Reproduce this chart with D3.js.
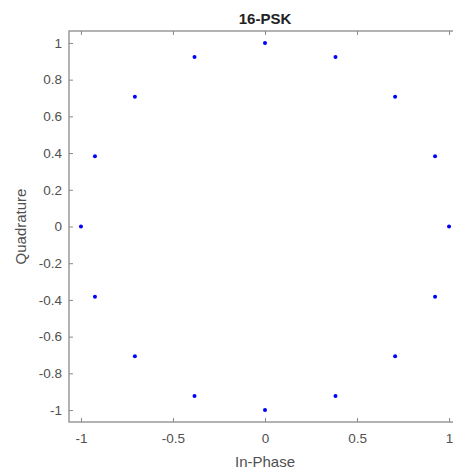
<!DOCTYPE html>
<html>
<head>
<meta charset="utf-8">
<script src="https://cdn.jsdelivr.net/npm/d3@7"></script>
<style>
body { margin:0; background:#fff; }
text { font-family: "Liberation Sans", Arial, sans-serif; }
</style>
</head>
<body>
<div id="chart"></div>
<script>
// 16-PSK constellation points
var inPhase    = [1, 0.924, 0.707, 0.383, 0, -0.383, -0.707, -0.924, -1, -0.924, -0.707, -0.383, 0, 0.383, 0.707, 0.924];
var quadrature = [0, 0.383, 0.707, 0.924, 1, 0.924, 0.707, 0.383, 0, -0.383, -0.707, -0.924, -1, -0.924, -0.707, -0.383];
var xTicks = [-1, -0.5, 0, 0.5, 1];
var yTicks = [-1, -0.8, -0.6, -0.4, -0.2, 0, 0.2, 0.4, 0.6, 0.8, 1];

var totalWidth = 453, totalHeight = 470;
var plotLeft = 69, plotTop = 31, plotRight = 461, plotBottom = 422;

var x = d3.scaleLinear().domain([-1.065, 1.065]).range([plotLeft, plotRight]);
var y = d3.scaleLinear().domain([-1.065, 1.065]).range([plotBottom, plotTop]);

// plain hyphen minus like the original
var fmt = function(d){ return String(d); };

var svg = d3.select('#chart').append('svg')
    .attr('width', totalWidth)
    .attr('height', totalHeight)
    .style('display', 'block');

var axisColor = '#8a8a8a';
var labelColor = '#505050';

// box
svg.append('rect')
    .attr('x', plotLeft).attr('y', plotTop)
    .attr('width', plotRight - plotLeft).attr('height', plotBottom - plotTop)
    .attr('fill', '#fff').attr('stroke', axisColor).attr('stroke-width', 1.3);

function styleAxis(g) {
    g.select('.domain').remove();
    g.selectAll('.tick line').attr('stroke', axisColor);
    g.selectAll('.tick text').attr('fill', labelColor).style('font-size', '13.5px');
}

// bottom axis, ticks point inward
svg.append('g')
    .attr('transform', 'translate(0,' + plotBottom + ')')
    .call(d3.axisBottom(x).tickValues(xTicks).tickSizeInner(-4).tickSizeOuter(0).tickPadding(11).tickFormat(fmt))
    .call(styleAxis);

// top ticks, no labels
svg.append('g')
    .attr('transform', 'translate(0,' + plotTop + ')')
    .call(d3.axisTop(x).tickValues(xTicks).tickSizeInner(-4).tickSizeOuter(0).tickFormat(''))
    .call(styleAxis);

// left axis
svg.append('g')
    .attr('transform', 'translate(' + plotLeft + ',0)')
    .call(d3.axisLeft(y).tickValues(yTicks).tickSizeInner(-4).tickSizeOuter(0).tickPadding(7).tickFormat(fmt))
    .call(styleAxis);

// points
svg.append('g').selectAll('circle')
    .data(inPhase)
    .enter().append('circle')
    .attr('cx', function(d){ return x(d); })
    .attr('cy', function(d, i){ return y(quadrature[i]); })
    .attr('r', 2)
    .attr('fill', '#0000ff');

// title and labels
svg.append('text')
    .attr('x', x(0)).attr('y', 24)
    .attr('text-anchor', 'middle')
    .style('font-size', '15px').style('font-weight', 'bold')
    .attr('fill', '#222')
    .text('16-PSK');

svg.append('text')
    .attr('x', x(0)).attr('y', 467)
    .attr('text-anchor', 'middle')
    .style('font-size', '15px')
    .attr('fill', labelColor)
    .text('In-Phase');

svg.append('text')
    .attr('transform', 'translate(26,' + y(0) + ') rotate(-90)')
    .attr('text-anchor', 'middle')
    .style('font-size', '15px')
    .attr('fill', labelColor)
    .text('Quadrature');
</script>
</body>
</html>
